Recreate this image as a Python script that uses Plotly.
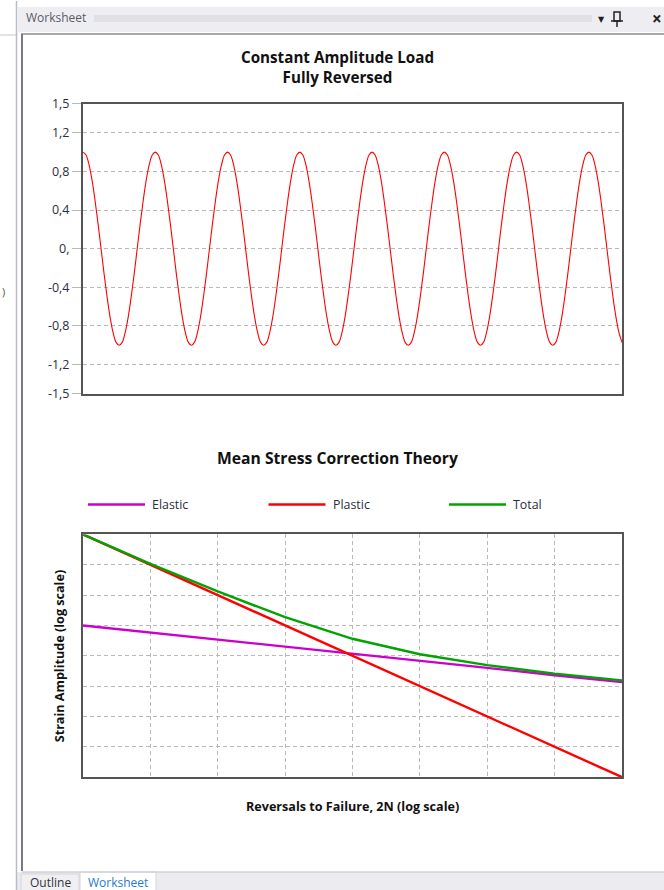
import plotly.graph_objects as go

W, H = 664, 890

# ---------------- data ----------------
load_cycle = [1.0, 0.97, 0.87, 0.71, 0.5, 0.26, 0.0, -0.26, -0.5, -0.71, -0.87, -0.97,
              -1.0, -0.97, -0.87, -0.71, -0.5, -0.26, 0.0, 0.26, 0.5, 0.71, 0.87, 0.97]
cycles_shown = 7.46
load_ticks = [-1.5, -1.2, -0.8, -0.4, 0.0, 0.4, 0.8, 1.2, 1.5]
load_tick_text = ["-1,5", "-1,2", "-0,8", "-0,4", "0,", "0,4", "0,8", "1,2", "1,5"]

# Bottom chart: strain-life curves (log units, grid divisions)
life_x = [0, 1, 2, 3, 4, 5, 6, 7, 8]
elastic = [5.00, 4.77, 4.53, 4.30, 4.06, 3.83, 3.60, 3.36, 3.13]
plastic = [8.00, 7.00, 6.00, 5.00, 4.00, 3.00, 2.00, 1.00, 0.00]
total = [8.00, 7.03, 6.12, 5.27, 4.56, 4.05, 3.69, 3.41, 3.19]

series_names = ["Elastic", "Plastic", "Total"]
series_colors = ["#cc00cc", "#ff0000", "#00a400"]

# build load history from sampled cycle
n = len(load_cycle)
load_t, load_v = [], []
k = 0
while k / n <= cycles_shown + 1e-9:
    load_t.append(k / n)
    load_v.append(load_cycle[k % n])
    k += 1

# ---------------- helpers ----------------
VS, VOFF = 0.982, 8.0   # vertical photo scale/offset compensation


def X(px):
    return px / W


def Y(py):
    return 1 - ((py - VOFF) / VS) / H


FONT = "Open Sans, DejaVu Sans, sans-serif"
fig = go.Figure()

fig.add_trace(go.Scatter(x=load_t, y=load_v, mode="lines",
                         line=dict(color="#ff0000", width=1.1, shape="spline", smoothing=1.0),
                         xaxis="x", yaxis="y", showlegend=False, hoverinfo="skip"))

for name, vals, col in zip(series_names, [elastic, plastic, total], series_colors):
    fig.add_trace(go.Scatter(x=life_x, y=vals, mode="lines", name=name,
                             line=dict(color=col, width=2.4),
                             xaxis="x2", yaxis="y2", showlegend=False))

axis_common = dict(showline=True, mirror=True, linecolor="#555555", linewidth=2,
                   zeroline=False)
GRID = "#b8b8b8"
DASH = "4px,3px"

fig.update_layout(
    width=W, height=H,
    margin=dict(l=0, r=0, t=0, b=0),
    paper_bgcolor="white", plot_bgcolor="white",
    font=dict(family=FONT, color="#2a2d40"),
    xaxis=dict(domain=[X(83), X(622)], range=[0, load_t[-1]], showgrid=False,
               showticklabels=False, ticks="", **axis_common),
    yaxis=dict(domain=[Y(393), Y(103)], range=[-1.5, 1.5], tickvals=load_ticks,
               ticktext=load_tick_text, showgrid=True, gridcolor=GRID,
               griddash=DASH, gridwidth=1, ticks="outside", ticklen=9,
               tickcolor=GRID, ticklabelstandoff=0,
               tickfont=dict(size=12.5, color="#2a2d40"), **axis_common),
    xaxis2=dict(domain=[X(83), X(622)], range=[0, 8], dtick=1, tick0=0,
                showgrid=True, gridcolor=GRID, griddash=DASH,
                showticklabels=False, ticks="", anchor="y2", **axis_common),
    yaxis2=dict(domain=[Y(777), Y(534)], range=[0, 8], dtick=1, tick0=0,
                showgrid=True, gridcolor=GRID, griddash=DASH,
                showticklabels=False, ticks="", anchor="x2", **axis_common),
)

ann = []
shapes = []

# titles
ann.append(dict(x=X(337), y=Y(66), xref="paper", yref="paper",
                text="<b>Constant Amplitude Load<br>Fully Reversed</b>", showarrow=False,
                font=dict(size=15.2, color="#111111"), xanchor="center", yanchor="middle"))
ann.append(dict(x=X(337), y=Y(458), xref="paper", yref="paper",
                text="<b>Mean Stress Correction Theory</b>", showarrow=False,
                font=dict(size=15.7, color="#111111"), xanchor="center", yanchor="middle"))
ann.append(dict(x=X(352), y=Y(806), xref="paper", yref="paper",
                text="<b>Reversals to Failure, 2N (log scale)</b>", showarrow=False,
                font=dict(size=12.6, color="#111111"), xanchor="center", yanchor="middle"))
ann.append(dict(x=X(59), y=Y(656), xref="paper", yref="paper", textangle=-90,
                text="<b>Strain Amplitude (log scale)</b>", showarrow=False,
                font=dict(size=12.6, color="#111111"), xanchor="center", yanchor="middle"))

# manual legend
for i, (name, col) in enumerate(zip(series_names, series_colors)):
    x0 = 88 + i * 180.5
    shapes.append(dict(type="line", xref="paper", yref="paper",
                       x0=X(x0), x1=X(x0 + 57), y0=Y(504), y1=Y(504),
                       line=dict(color=col, width=2.6)))
    ann.append(dict(x=X(x0 + 62), y=Y(504), xref="paper", yref="paper", text=name,
                    showarrow=False, xanchor="left", yanchor="middle",
                    font=dict(size=12.4, color="#2a2d40")))

# ---------------- window chrome ----------------
# title bar
shapes.append(dict(type="rect", xref="paper", yref="paper", x0=X(18), x1=X(664),
                   y0=Y(31), y1=Y(6), fillcolor="#eeeef2", line=dict(width=0), layer="below"))
shapes.append(dict(type="rect", xref="paper", yref="paper", x0=X(94), x1=X(592),
                   y0=Y(21), y1=Y(14), fillcolor="#e0e0e6", line=dict(width=0)))
ann.append(dict(x=X(24), y=Y(17), xref="paper", yref="paper", text="Worksheet",
                showarrow=False, xanchor="left", yanchor="middle",
                font=dict(size=12, color="#5a5a66")))
ann.append(dict(x=X(601), y=Y(18), xref="paper", yref="paper", text="▼",
                showarrow=False, xanchor="center", yanchor="middle",
                font=dict(size=8, color="#222222")))
# pin icon
shapes.append(dict(type="rect", xref="paper", yref="paper", x0=X(614), x1=X(620),
                   y0=Y(20), y1=Y(11), line=dict(color="#222222", width=1.5)))
shapes.append(dict(type="line", xref="paper", yref="paper", x0=X(611), x1=X(623),
                   y0=Y(20), y1=Y(20), line=dict(color="#222222", width=1.5)))
shapes.append(dict(type="line", xref="paper", yref="paper", x0=X(617), x1=X(617),
                   y0=Y(20), y1=Y(26), line=dict(color="#222222", width=1.5)))
ann.append(dict(x=X(664), y=Y(18), xref="paper", yref="paper", text="<b>×</b>",
                showarrow=False, xanchor="right", yanchor="middle",
                font=dict(size=17, color="#222222")))
# panel border lines
shapes.append(dict(type="line", xref="paper", yref="paper", x0=X(21), x1=X(664),
                   y0=Y(33), y1=Y(33), line=dict(color="#a8a8ae", width=2)))
shapes.append(dict(type="line", xref="paper", yref="paper", x0=X(22), x1=X(22),
                   y0=Y(33), y1=Y(871), line=dict(color="#7a7a80", width=2)))
shapes.append(dict(type="line", xref="paper", yref="paper", x0=X(16.5), x1=X(16.5),
                   y0=Y(0), y1=Y(890), line=dict(color="#b8bccc", width=1.5)))
shapes.append(dict(type="line", xref="paper", yref="paper", x0=X(0), x1=X(16),
                   y0=Y(34), y1=Y(34), line=dict(color="#c8c8cc", width=1)))
ann.append(dict(x=X(3), y=Y(291), xref="paper", yref="paper", text=")",
                showarrow=False, xanchor="center", yanchor="middle",
                font=dict(size=11, color="#555555")))
# bottom tab strip
shapes.append(dict(type="rect", xref="paper", yref="paper", x0=X(17), x1=X(664),
                   y0=Y(895), y1=Y(872), fillcolor="#ececf0", line=dict(width=0), layer="below"))
shapes.append(dict(type="line", xref="paper", yref="paper", x0=X(22), x1=X(664),
                   y0=Y(872), y1=Y(872), line=dict(color="#d0d0dc", width=1.5)))
shapes.append(dict(type="rect", xref="paper", yref="paper", x0=X(21), x1=X(79),
                   y0=Y(895), y1=Y(874), fillcolor="#f0f0f2",
                   line=dict(color="#d4d4da", width=1), layer="below"))
shapes.append(dict(type="rect", xref="paper", yref="paper", x0=X(80), x1=X(156),
                   y0=Y(895), y1=Y(872), fillcolor="#ffffff",
                   line=dict(color="#d4d4da", width=1), layer="below"))
ann.append(dict(x=X(50), y=Y(882), xref="paper", yref="paper", text="Outline",
                showarrow=False, xanchor="center", yanchor="middle",
                font=dict(size=12, color="#333340")))
ann.append(dict(x=X(118), y=Y(882), xref="paper", yref="paper", text="Worksheet",
                showarrow=False, xanchor="center", yanchor="middle",
                font=dict(size=12, color="#1f7ad0")))

fig.update_layout(annotations=ann, shapes=shapes)
fig.write_html("out.html", config={"displayModeBar": False},
               post_script="document.body.style.margin='0';document.body.style.overflow='hidden';")
